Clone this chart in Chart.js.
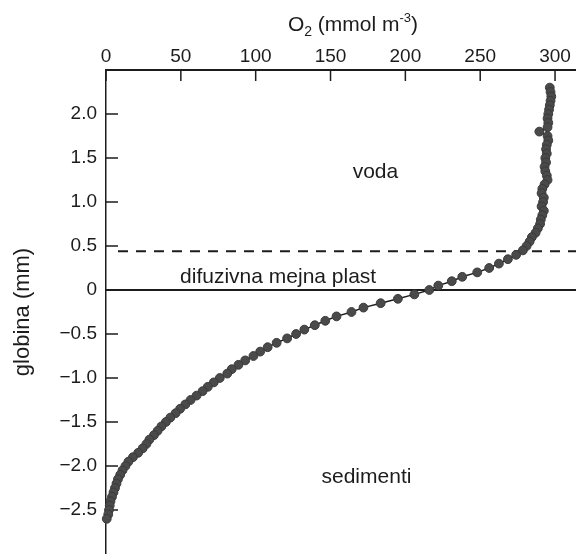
<!DOCTYPE html>
<html>
<head>
<meta charset="utf-8">
<script src="https://cdn.jsdelivr.net/npm/chart.js@4.4.1/dist/chart.umd.min.js"></script>
<style>
  html, body { margin: 0; padding: 0; background: #fff; }
</style>
</head>
<body>
<canvas id="o2Chart" width="576" height="554"></canvas>
<script>
// globina (mm) in koncentracija kisika (mmol m-3)
const depth = [
   2.30,  2.25,  2.20,  2.15,  2.10,  2.05,  2.00,  1.95,  1.90,  1.85,
   1.80,  1.75,  1.70,  1.65,  1.60,  1.55,  1.50,  1.45,  1.40,  1.35,
   1.30,  1.25,  1.20,  1.15,  1.10,  1.05,  1.00,  0.95,  0.90,  0.85,
   0.80,  0.75,  0.70,  0.65,  0.60,  0.55,  0.50,  0.45,  0.40,  0.35,
   0.30,  0.25,  0.20,  0.15,  0.10,  0.05,  0.00, -0.05, -0.10, -0.15,
  -0.20, -0.25, -0.30, -0.35, -0.40, -0.45, -0.50, -0.55, -0.60, -0.65,
  -0.70, -0.75, -0.80, -0.85, -0.90, -0.95, -1.00, -1.05, -1.10, -1.15,
  -1.20, -1.25, -1.30, -1.35, -1.40, -1.45, -1.50, -1.55, -1.60, -1.65,
  -1.70, -1.75, -1.80, -1.85, -1.90, -1.95, -2.00, -2.05, -2.10, -2.15,
  -2.20, -2.25, -2.30, -2.35, -2.40, -2.45, -2.50, -2.55, -2.60
];
const o2 = [
  296.5, 297, 297.5, 297, 296.5, 296, 295.5, 295, 295.5, 295,
  289.5, 295, 295.5, 294.5, 294, 294.5, 293.5, 294, 293, 293.5,
  294.5, 295, 293, 291.5, 291, 292.5, 292, 291, 292.5, 291.5,
  290.5, 290, 288.5, 287, 284.5, 283, 281, 278.5, 274, 268.5,
  262.5, 256, 248, 238, 231, 222, 216, 206, 195, 183.5,
  172, 164, 154, 146.5, 139.5, 132.5, 127, 121, 114, 108,
  103, 98.5, 93, 88.5, 84, 81, 76, 72, 68, 64.5,
  60.5, 56.5, 53, 49.5, 46.5, 43, 40, 37, 34.5, 32,
  29, 27, 24.5, 21.5, 18, 15, 13, 11, 9.5, 8,
  7, 6, 5, 4, 3, 2.5, 2, 1.5, 0.5
];

const xTicks = [0, 50, 100, 150, 200, 250, 300];
const yTicks = [2, 1.5, 1, 0.5, 0, -0.5, -1, -1.5, -2, -2.5];
const yTickLabels = ['2.0', '1.5', '1.0', '0.5', '0', '\u22120.5', '\u22121.0', '\u22121.5', '\u22122.0', '\u22122.5'];

// meje plasti (mm)
const sedimentSurface = 0;
const boundaryLayerTop = 0.44;

const FONT = "'Liberation Sans', Arial, sans-serif";
const INK = '#1c1c1c';

// oznake območij: besedilo, O2, globina
const regionLabels = [
  ['voda', 180, 1.27],
  ['difuzivna mejna plast', 115, 0.08],
  ['sedimenti', 174, -2.19]
];

const profilePlugin = {
  id: 'profil',
  beforeDatasetsDraw(chart) {
    const {ctx, chartArea, scales: {x, y}} = chart;
    ctx.save();
    ctx.strokeStyle = INK;

    // površina sedimenta
    ctx.lineWidth = 2;
    ctx.beginPath();
    const y0 = y.getPixelForValue(sedimentSurface);
    ctx.moveTo(chartArea.left, y0);
    ctx.lineTo(chartArea.right, y0);
    ctx.stroke();

    // zgornja meja difuzivne mejne plasti
    ctx.setLineDash([10, 8]);
    ctx.beginPath();
    const yb = y.getPixelForValue(boundaryLayerTop);
    ctx.moveTo(x.getPixelForValue(8), yb);
    ctx.lineTo(chartArea.right, yb);
    ctx.stroke();
    ctx.setLineDash([]);

    // oznake na oseh (navznoter)
    ctx.lineWidth = 1.5;
    ctx.beginPath();
    x.ticks.forEach(t => {
      const px = x.getPixelForValue(t.value);
      ctx.moveTo(px, chartArea.top);
      ctx.lineTo(px, chartArea.top + 11);
    });
    y.ticks.forEach(t => {
      const py = y.getPixelForValue(t.value);
      ctx.moveTo(chartArea.left, py);
      ctx.lineTo(chartArea.left + 12, py);
    });
    ctx.stroke();
    ctx.restore();
  },
  afterDraw(chart) {
    const {ctx, scales: {x, y}} = chart;
    ctx.save();
    ctx.fillStyle = INK;
    ctx.textBaseline = 'alphabetic';
    ctx.textAlign = 'center';
    ctx.font = '21px ' + FONT;
    regionLabels.forEach(([text, ox, d]) => {
      ctx.fillText(text, x.getPixelForValue(ox), y.getPixelForValue(d));
    });

    // naslov osi x: O2 (mmol m-3)
    const parts = [
      ['O', 21, 0], ['2', 14, 5], [' (mmol m', 21, 0], ['-3', 13, -9], [')', 21, 0]
    ];
    ctx.textAlign = 'left';
    let total = 0;
    parts.forEach(p => { ctx.font = p[1] + 'px ' + FONT; total += ctx.measureText(p[0]).width; });
    let cx = x.getPixelForValue(165) - total / 2;
    const base = 31;
    parts.forEach(p => {
      ctx.font = p[1] + 'px ' + FONT;
      ctx.fillText(p[0], cx, base + p[2]);
      cx += ctx.measureText(p[0]).width;
    });
    ctx.restore();
  }
};

new Chart(document.getElementById('o2Chart').getContext('2d'), {
  type: 'scatter',
  data: {
    datasets: [{
      data: depth.map((d, i) => ({x: o2[i], y: d})),
      showLine: true,
      borderColor: INK,
      borderWidth: 1.5,
      pointRadius: 4.4,
      pointBackgroundColor: '#4a4a4a',
      pointBorderColor: '#3a3a3a',
      pointBorderWidth: 1,
      clip: 8
    }]
  },
  options: {
    responsive: false,
    animation: false,
    layout: { padding: 0, autoPadding: false },
    plugins: {
      legend: { display: false },
      tooltip: { enabled: false }
    },
    scales: {
      x: {
        type: 'linear',
        position: 'top',
        min: 0,
        max: 314,
        grid: { display: false, drawTicks: false },
        border: { display: true, color: INK, width: 2 },
        ticks: {
          color: INK,
          font: { size: 19, family: FONT },
          padding: 2,
          maxRotation: 0,
          autoSkip: false
        },
        afterBuildTicks: s => { s.ticks = xTicks.map(v => ({value: v})); },
        afterFit: s => { s.height = 70; s.paddingLeft = 0; s.paddingRight = 0; }
      },
      y: {
        type: 'linear',
        min: -3,
        max: 2.5,
        grid: { display: false, drawTicks: false },
        border: { display: true, color: INK, width: 1.5 },
        ticks: {
          color: INK,
          font: { size: 19, family: FONT },
          padding: 9,
          autoSkip: false,
          callback: (v, i) => yTickLabels[i]
        },
        title: {
          display: true,
          text: 'globina (mm)',
          color: INK,
          font: { size: 22, family: FONT },
          padding: { top: 10, bottom: 0 }
        },
        afterBuildTicks: s => { s.ticks = yTicks.map(v => ({value: v})); },
        afterFit: s => { s.width = 106; s.paddingTop = 0; s.paddingBottom = 0; }
      }
    }
  },
  plugins: [profilePlugin]
});
</script>
</body>
</html>
